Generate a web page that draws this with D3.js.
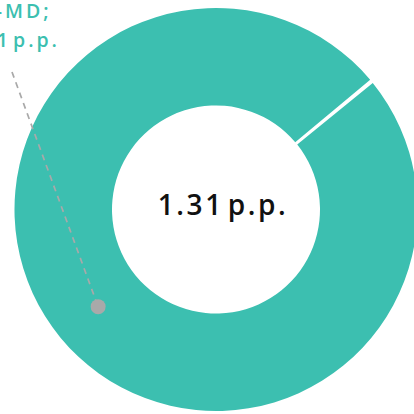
<!DOCTYPE html>
<html><head><meta charset="utf-8">
<script src="https://cdn.jsdelivr.net/npm/d3@7"></script>
<style>html,body{margin:0;padding:0;background:#fff;overflow:hidden}</style>
</head><body>
<svg id="c" width="414" height="414"></svg>
<script>
const categories = ["", "DE-MD"];
const values = [0, 1.31];
const labelLines = ["DE-MD;", "1.31 p.p."];
const labelHidden = ["DE-", "1.31 "];   // part of each line that falls off the left edge
const centerLabel = "1.31 p.p.";

const cx = 216, cy = 209.5, R = 201.5, r = 104;
const teal = "#3cbfb0";
const grey = "#a9a9a9";
const svg = d3.select("#c");
const g = svg.append("g").attr("transform", `translate(${cx},${cy})`);

const pa = 0.0095;
const start = 50.5 * Math.PI / 180 - pa / 2;
const pie = d3.pie().sort(null).value(d => d).startAngle(start).endAngle(start + 2 * Math.PI).padAngle(pa);
const arcs = pie(values);
const arc = d3.arc().innerRadius(r).outerRadius(R);

g.selectAll("path").data(arcs).join("path")
  .attr("d", arc)
  .attr("fill", teal);

const big = arcs[1];
const mr = (r + R) / 2;
const mid = d3.arc().innerRadius(mr).outerRadius(mr).centroid(big);

// leader line
const lx = 12 - cx, ly = 72 - cy;
g.append("line")
  .attr("x1", lx).attr("y1", ly).attr("x2", mid[0]).attr("y2", mid[1])
  .attr("stroke", grey).attr("stroke-width", 1.7).attr("stroke-dasharray", "6,5");
g.append("circle").attr("cx", mid[0]).attr("cy", mid[1]).attr("r", 7.5).attr("fill", grey);

// label (runs off the left edge, as in the reference)
const lab = svg.append("text")
  .attr("font-family", "'Open Sans', sans-serif").attr("font-size", 19.5).attr("font-weight", 600)
  .attr("fill", teal).attr("letter-spacing", 3).attr("word-spacing", -6);
const visStart = [5, 13];
lab.selectAll("tspan").data(labelLines).join("tspan")
  .attr("y", (d, i) => 17.5 + i * 29.5).text(d => d)
  .each(function(d, i) {
    const n = labelHidden[i].length;
    const w = this.getSubStringLength(0, n);
    d3.select(this).attr("x", visStart[i] - w);
  });

// center
g.append("text").attr("text-anchor", "middle").attr("x", 7).attr("y", 5.5)
  .attr("font-family", "'Open Sans', sans-serif").attr("font-size", 28).attr("font-weight", 600)
  .attr("fill", "#111").attr("letter-spacing", 2.6).attr("word-spacing", -6).text(centerLabel);
</script>
</body></html>
